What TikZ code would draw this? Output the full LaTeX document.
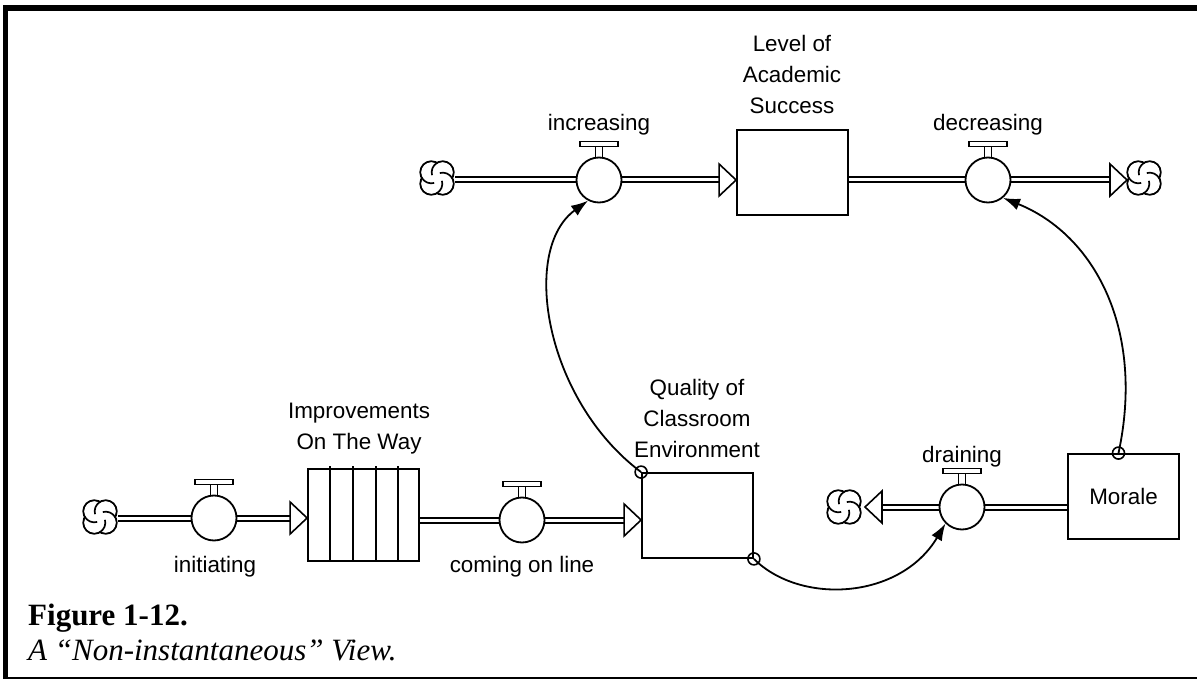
\documentclass[tikz,border=0pt]{standalone}
\usepackage{fontspec}
\setmainfont{Liberation Sans}
\newfontfamily\capfont{Liberation Serif}
\usetikzlibrary{arrows.meta}
\newcommand\pipeline[2]{\draw[line width=7pt] #1 -- #2; \draw[line width=3pt, white] #1 -- #2;}
\newcommand\valvehandle[1]{%
  \draw[line width=1.5pt] ([xshift=-3.5pt]#1.north) -- ([xshift=-3.5pt,yshift=10pt]#1.north)
       ([xshift=3.5pt]#1.north) -- ([xshift=3.5pt,yshift=10pt]#1.north);
  \draw[line width=1.5pt, fill=white] ([xshift=-19pt,yshift=10pt]#1.north) rectangle ([xshift=19pt,yshift=15pt]#1.north);}
\newcommand\cloudsym[1]{%
  \begin{scope}[shift={(#1)}]
    \foreach \a in {45,135,225,315} \draw[line width=2pt] (\a:8pt) circle[radius=11pt];
    \foreach \a in {45,135,225,315} \fill[white] (\a:8pt) circle[radius=10pt];
    \foreach \a in {45,135,225,315} \draw[line width=1.7pt] (\a:8pt) ++(\a+76:11pt) arc[start angle=\a+76, end angle=\a+150, radius=11pt];
  \end{scope}}
\newcommand\tipright[1]{\draw[line width=1.6pt, fill=white, line join=miter] #1 -- ++(-17,-16) -- ++(0,32) -- cycle;}
\newcommand\tipleft[1]{\draw[line width=1.6pt, fill=white, line join=miter] #1 -- ++(17,-16) -- ++(0,32) -- cycle;}
\begin{document}
\begin{tikzpicture}[x=1pt,y=-1pt,
  lbl/.style={font=\fontsize{22.4}{31}\selectfont, align=center, inner sep=0pt},
  stock/.style={draw, line width=1.8pt, fill=white, minimum width=111pt, minimum height=85pt, inner sep=0pt},
  valve/.style={draw, circle, line width=1.8pt, fill=white, minimum size=45pt, inner sep=0pt},
  info/.style={line width=1.8pt, -{Latex[length=17pt,width=12pt]}},
  ring/.style={line width=1.6pt},
]
\useasboundingbox (0,0) rectangle (1197,679);
% frame
\fill (3,5) rectangle (1197,11);
\fill (3,5) rectangle (8,679);
\draw[line width=2pt] (3,677.5) -- (1197,677.5);

% positions
\coordinate (cl1) at (437,178);
\coordinate (cl2) at (1144,178);
\coordinate (cl3) at (100,517);
\coordinate (cl4) at (844,507);

% pipes (drawn first)
\pipeline{(455,180)}{(599,180)}
\pipeline{(599,180)}{(721,180)}
\pipeline{(848,180)}{(988,180)}
\pipeline{(988,180)}{(1110,180)}
\pipeline{(118,518)}{(214,518)}
\pipeline{(214,518)}{(292,518)}
\pipeline{(419,520)}{(522,520)}
\pipeline{(522,520)}{(626,520)}
\pipeline{(1068,507)}{(962,507)}
\pipeline{(962,507)}{(881,507)}

% stocks
\node[stock, minimum height=85pt] (lev) at (792.5,172.5) {};
\node[stock, minimum height=92pt] (conv) at (363.5,515) {};
\foreach \xx in {330,353,376,398} \draw[line width=1.8pt] (\xx,466) -- (\xx,561);
\node[stock] (qual) at (697.5,515.5) {};
\node[stock, font=\fontsize{22.4}{31}\selectfont] (mor) at (1123.5,496.5) {Morale};

% valves
\node[valve] (inc) at (599,180) {};
\node[valve] (dec) at (988,180) {};
\node[valve] (init) at (214,518) {};
\node[valve] (com) at (522,520) {};
\node[valve] (drain) at (962,507) {};
\valvehandle{inc}
\valvehandle{dec}
\valvehandle{init}
\valvehandle{com}
\valvehandle{drain}

% clouds
\cloudsym{cl1}
\cloudsym{cl2}
\cloudsym{cl3}
\cloudsym{cl4}

% arrow heads of flows
\tipright{(lev.west |- inc.center)}
\tipright{(1127,180)}
\tipright{(conv.west |- init.center)}
\tipright{(qual.west |- com.center)}
\tipleft{(865,507)}

% labels
\node[lbl, anchor=base] at (599,131) {increasing};
\node[lbl, anchor=base] at (988,131) {decreasing};
\node[lbl, anchor=base] at (792,114) {Level of\\Academic\\Success};
\node[lbl, anchor=base] at (359,449) {Improvements\\On The Way};
\node[lbl, anchor=base] at (697,457) {Quality of\\Classroom\\Environment};
\node[lbl, anchor=base] at (962,462) {draining};
\node[lbl, anchor=base] at (215,572) {initiating};
\node[lbl, anchor=base] at (522,572) {coming on line};

% information links
\draw[info] (qual.north west) .. controls (545,400) and (520,250) .. (inc.-118);
\draw[ring] (qual.north west) circle[radius=6pt];
\draw[info] ([xshift=-5pt]mor.north) .. controls (1145,330) and (1095,235) .. (dec.-50);
\draw[ring] ([xshift=-5pt]mor.north) circle[radius=6pt];
\draw[info] (qual.south east) .. controls (800,605) and (900,600) .. (drain.-135);
\draw[ring] (qual.south east) circle[radius=6pt];

% caption
\node[anchor=base west, inner sep=0pt, font=\capfont\fontsize{31}{31}\selectfont\bfseries] (figno) at (28,625) {Figure 1-12.};
\node[anchor=base west, inner sep=0pt, font=\capfont\fontsize{31}{31}\selectfont\itshape] (figtitle) at (28,660) {A “Non-instantaneous” View.};
\end{tikzpicture}
\end{document}
